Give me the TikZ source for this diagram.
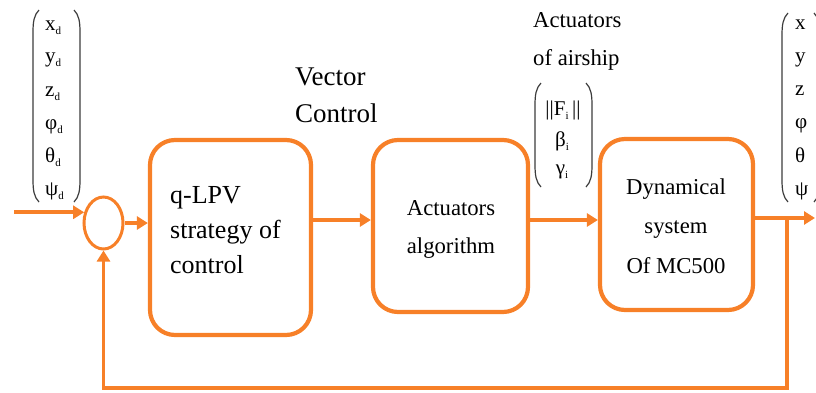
\documentclass[tikz,border=0pt]{standalone}
\usepackage{fontspec}
\setmainfont{Liberation Serif}
\usetikzlibrary{arrows.meta,shapes.geometric}
\definecolor{orng}{RGB}{247,128,40}
\definecolor{pgray}{RGB}{60,60,60}
\newcommand\fsz[1]{\fontsize{#1}{#1}\selectfont}
\newcommand\sbd[1]{\raisebox{-4pt}{\fontsize{11}{11}\selectfont #1}}
\newcommand\parL[3]{\draw[paren] (#1+6,#2) .. controls (#1+1,#2+5) and (#1,#2+12) .. (#1,#2+22) -- (#1,#3-22) .. controls (#1,#3-12) and (#1+1,#3-5) .. (#1+6,#3);}
\newcommand\parR[3]{\draw[paren] (#1-6,#2) .. controls (#1-1,#2+5) and (#1,#2+12) .. (#1,#2+22) -- (#1,#3-22) .. controls (#1,#3-12) and (#1-1,#3-5) .. (#1-6,#3);}
\tikzset{
  blk/.style={draw=orng, line width=4.2pt, rounded corners=25pt, inner sep=0pt},
  arr/.style={draw=orng, line width=3.6pt, -{Triangle[length=11pt,width=13pt]}},
  fbline/.style={draw=orng, line width=3.4pt},
  paren/.style={draw=pgray, line width=1.2pt},
  txtA/.style={inner sep=0pt, font=\fsz{26}},
  txtB/.style={inner sep=0pt, font=\fsz{22.7}},
  ent/.style={inner sep=0pt, font=\fsz{21}, anchor=base west},
}
\begin{document}
\begin{tikzpicture}[x=1pt,y=-1pt]
\useasboundingbox (0,0) rectangle (816,392);
% blocks
\node[ellipse, draw=orng, line width=3pt, minimum width=39pt, minimum height=52pt, inner sep=0pt] (sum) at (103.5,223) {};
\node[blk, minimum width=161pt, minimum height=195pt] (box1) at (230.5,237.5) {};
\node[blk, minimum width=155pt, minimum height=172pt] (box2) at (450.5,226) {};
\node[blk, minimum width=153pt, minimum height=171pt] (box3) at (676.5,224.5) {};
% block texts
\node[txtA, anchor=base west] (t1a) at (170,203) {q-LPV};
\node[txtA, anchor=base west] (t1b) at (170,238) {strategy of};
\node[txtA, anchor=base west] (t1c) at (170,273) {control};
\node[txtB, anchor=base] (t2a) at (451,215) {Actuators};
\node[txtB, anchor=base] (t2b) at (451,253) {algorithm};
\node[txtB, anchor=base] (t3a) at (676,194) {Dynamical};
\node[txtB, anchor=base] (t3b) at (676,233) {system};
\node[txtB, anchor=base] (t3c) at (676,273) {Of MC500};
% labels
\node[inner sep=0pt, font=\fsz{27}, anchor=base west] (vc1) at (295,85) {Vector};
\node[inner sep=0pt, font=\fsz{27}, anchor=base west] (vc2) at (295,122) {Control};
\node[txtB, anchor=base west] (aa1) at (533,27) {Actuators};
\node[txtB, anchor=base west] (aa2) at (533,65) {of airship};
% left vector
\parL{33}{10}{202}
\parR{80}{10}{202}
\node[ent] (xd) at (45,30) {x\sbd{d}};
\node[ent] (yd) at (45,62) {y\sbd{d}};
\node[ent] (zd) at (45,96) {z\sbd{d}};
\node[ent] (pd) at (45,129) {φ\sbd{d}};
\node[ent] (td) at (45,162) {θ\sbd{d}};
\node[ent] (sd) at (45,195) {ψ\sbd{d}};
% middle vector
\parL{535}{83}{187}
\parR{592}{83}{187}
\node[inner sep=0pt, font=\fsz{21}, anchor=base] (fi) at (563,115) {||F\sbd{i}\,||};
\node[inner sep=0pt, font=\fsz{21}, anchor=base] (bi) at (562,146) {β\sbd{i}};
\node[inner sep=0pt, font=\fsz{21}, anchor=base] (gi) at (562,174) {γ\sbd{i}};
% right vector
\parL{782}{13}{202}
\parR{820}{13}{202}
\node[ent] (xo) at (795,29) {x};
\node[ent] (yo) at (795,62) {y};
\node[ent] (zo) at (795,95) {z};
\node[ent] (po) at (795,128) {φ};
\node[ent] (to) at (795,162) {θ};
\node[ent] (so) at (795,195) {ψ};
% connectors
\coordinate (in) at (14,213);
\coordinate (sig) at (0,220);
\coordinate (o) at (815,218);
\coordinate (br) at (787,218);
\coordinate (fb) at (787,388);
\draw[arr] (sum.151 -| in) -- (sum.151);
\draw[arr] (sum.east) -- (sum.east -| box1.west);
\draw[arr] (box1.east |- sig) -- (box2.west |- sig);
\draw[arr] (box2.east |- sig) -- (box3.west |- sig);
\draw[arr] (box3.east |- o) -- (o);
\draw[fbline, -{Triangle[length=11pt,width=13pt]}] (br) -- (fb) -| (sum.south);
\end{tikzpicture}
\end{document}
